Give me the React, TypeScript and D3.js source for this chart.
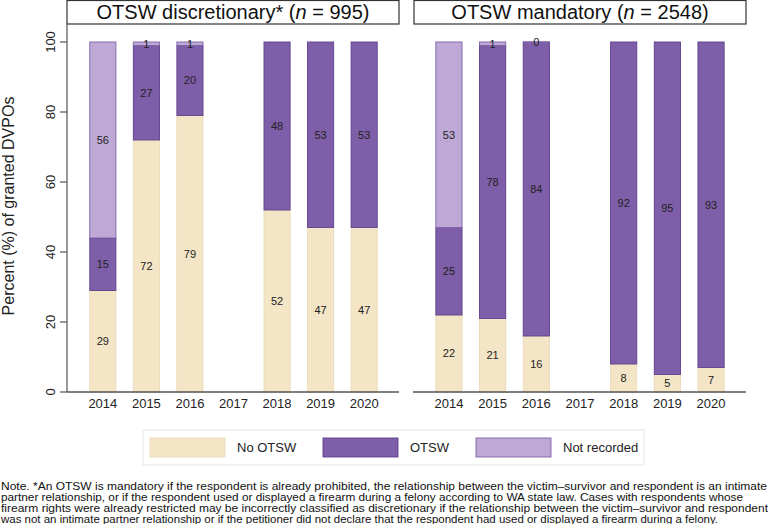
import React from "react";
import * as d3 from "d3";

const years = ["2014", "2015", "2016", "2017", "2018", "2019", "2020"];
const seriesNames = ["No OTSW", "OTSW", "Not recorded"];
// discretionary panel (null = no data)
const discNo = [29, 72, 79, null, 52, 47, 47];
const discOtsw = [15, 27, 20, null, 48, 53, 53];
const discNR = [56, 1, 1, null, null, null, null];
// mandatory panel
const mandNo = [22, 21, 16, null, 8, 5, 7];
const mandOtsw = [25, 78, 84, null, 92, 95, 93];
const mandNR = [53, 1, 0, null, null, null, null];
const yTicks = [0, 20, 40, 60, 80, 100];
const noteLines = [
  "Note. *An OTSW is mandatory if the respondent is already prohibited, the relationship between the victim\u2013survivor and respondent is an intimate",
  "partner relationship, or if the respondent used or displayed a firearm during a felony according to WA state law. Cases with respondents whose",
  "firearm rights were already restricted may be incorrectly classified as discretionary if the relationship between the victim\u2013survivor and respondent",
  "was not an intimate partner relationship or if the petitioner did not declare that the respondent had used or displayed a firearm during a felony.",
];
const noteWidths = [766, 742, 767, 717];

const FONT = "'Liberation Sans', Arial, Helvetica, sans-serif";
const fills = ["#f3e5c6", "#7e5ea8", "#bea9d6"];
const strokes = ["#eadbb8", "#5e408c", "#7e63a6"];

const y = d3.scaleLinear().domain([0, 100]).range([392, 42]);

function Panel({ x0, x1, no, otsw, nr }: any) {
  const x = d3.scaleBand<string>().domain(years).range([x0, x1]).paddingInner(0.4).paddingOuter(0.5);
  const rows = years.map((yr, i) => ({ yr, vals: [no[i], otsw[i], nr[i]] }));
  return (
    <g>
      {rows.map((r) => {
        if (r.vals[0] == null) return null;
        let cum = 0;
        return (
          <g key={r.yr}>
            {r.vals.map((v: number | null, k: number) => {
              if (v == null) return null;
              const lo = cum;
              cum += v;
              const top = y(cum);
              const bot = y(lo);
              return (
                <g key={k}>
                  <rect
                    x={x(r.yr)}
                    y={top}
                    width={x.bandwidth()}
                    height={Math.max(0.3, bot - top)}
                    fill={fills[k]}
                    stroke={strokes[k]}
                    strokeWidth={0.9}
                  />
                </g>
              );
            })}
            {(() => {
              let c = 0;
              return r.vals.map((v: number | null, k: number) => {
                if (v == null) return null;
                const mid = c + v / 2;
                c += v;
                return (
                  <text
                    key={"t" + k}
                    x={(x(r.yr) as number) + x.bandwidth() / 2}
                    y={y(mid)}
                    dy="0.36em"
                    textAnchor="middle"
                    fontSize={11}
                    fill="#222"
                  >
                    {v}
                  </text>
                );
              });
            })()}
          </g>
        );
      })}
      <line x1={x0 - 1} x2={x1} y1={392} y2={392} stroke="#555" strokeWidth={1.4} />
      {years.map((yr) => (
        <text key={yr} x={(x(yr) as number) + x.bandwidth() / 2} y={408} textAnchor="middle" fontSize={13} fill="#222">
          {yr}
        </text>
      ))}
    </g>
  );
}

export default function App() {
  return (
    <svg
      width={768}
      height={524}
      viewBox="0 0 768 524"
      style={{ position: "absolute", left: 0, top: 0, background: "#fff" }}
      fontFamily={FONT}
    >
      <rect x={0} y={0} width={768} height={524} fill="#fff" />
      {/* title boxes */}
      <rect x={67} y={0.5} width={332} height={23.5} fill="#fff" stroke="#333" strokeWidth={1.2} />
      <text x={233} y={19} textAnchor="middle" fontSize={20} fill="#111">
        OTSW discretionary* (<tspan fontStyle="italic">n</tspan> = 995)
      </text>
      <rect x={414} y={0.5} width={332} height={23.5} fill="#fff" stroke="#333" strokeWidth={1.2} />
      <text x={580} y={19} textAnchor="middle" fontSize={20} fill="#111">
        OTSW mandatory (<tspan fontStyle="italic">n</tspan> = 2548)
      </text>

      {/* y axis */}
      <line x1={67} x2={67} y1={24} y2={392} stroke="#555" strokeWidth={1.2} />
      {yTicks.map((t) => (
        <g key={t}>
          <line x1={60} x2={67} y1={y(t)} y2={y(t)} stroke="#555" strokeWidth={1.2} />
          <text
            transform={`translate(55,${y(t)}) rotate(-90)`}
            textAnchor="middle"
            fontSize={13}
            fill="#222"
          >
            {t}
          </text>
        </g>
      ))}
      <text transform="translate(14,206) rotate(-90)" textAnchor="middle" fontSize={16} fill="#222">
        Percent (%) of granted DVPOs
      </text>

      <Panel x0={68} x1={399} no={discNo} otsw={discOtsw} nr={discNR} />
      <Panel x0={414} x1={746} no={mandNo} otsw={mandOtsw} nr={mandNR} />

      {/* legend */}
      <rect x={143} y={430} width={501} height={35} fill="#fff" stroke="#e6e6e6" strokeWidth={1} />
      {seriesNames.map((s, i) => {
        const sx = [150, 323, 476][i];
        return (
          <g key={s}>
            <rect x={sx} y={438} width={75} height={19} fill={fills[i]} stroke={strokes[i]} strokeWidth={0.9} />
            <text x={sx + 87} y={452} fontSize={13} fill="#222">
              {s}
            </text>
          </g>
        );
      })}

      {/* note */}
      {noteLines.map((l, i) => (
        <text
          key={i}
          x={1}
          y={490 + i * 11}
          fontSize={11.5}
          fill="#111"
          textLength={noteWidths[i]}
          lengthAdjust="spacingAndGlyphs"
        >
          {l}
        </text>
      ))}
    </svg>
  );
}
